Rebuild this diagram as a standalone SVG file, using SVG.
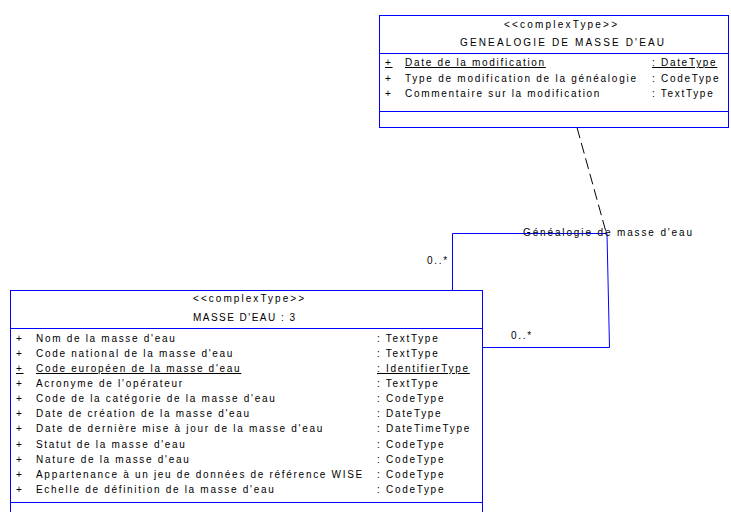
<svg xmlns="http://www.w3.org/2000/svg" width="731" height="512" viewBox="0 0 731 512">
<style>
  .box { fill: #ffffff; stroke: #0000ff; stroke-width: 1; }
  .sep { stroke: #0000ff; stroke-width: 1; fill: none; }
  text { font-family: "Liberation Sans", Arial, sans-serif; font-size: 10px; fill: #000000; letter-spacing: 1.7px; }
  .fit { letter-spacing: 0; }
  .u { text-decoration: underline; }
  .assoc { stroke: #0000ff; stroke-width: 1; fill: none; }
  .dash { stroke: #000000; stroke-width: 1; fill: none; stroke-dasharray: 11 5; }
</style>
<rect width="731" height="512" fill="#ffffff"/>
<g id="connectors">
  <polyline class="assoc" points="452.5,290 452.5,233.5 607,233.5 609.5,347.5 482,347.5"/>
  <line class="dash" x1="577" y1="127.5" x2="606" y2="232"/>
  <text class="fit" x="523" y="236" textLength="169" lengthAdjust="spacing">Généalogie de masse d'eau</text>
  <text x="427" y="264">0..*</text>
  <text x="511" y="339">0..*</text>
</g>
<g id="genealogie">
  <rect class="box" x="379.5" y="15.5" width="349" height="112"/>
  <line class="sep" x1="379.5" y1="53.5" x2="728.5" y2="53.5"/>
  <line class="sep" x1="379.5" y1="111.5" x2="728.5" y2="111.5"/>
  <text class="fit" x="504" y="28" textLength="113" lengthAdjust="spacing">&lt;&lt;complexType&gt;&gt;</text>
  <text class="fit" x="460" y="45.5" textLength="204" lengthAdjust="spacing">GENEALOGIE DE MASSE D'EAU</text>
  <text class="u" x="385" y="66">+</text>
  <text class="u" x="405" y="66">Date de la modification</text>
  <text class="u" x="652" y="66">: DateType</text>
  <text x="385" y="81.5">+</text>
  <text class="fit" x="405" y="81.5" textLength="231" lengthAdjust="spacing">Type de modification de la généalogie</text>
  <text x="652" y="81.5">: CodeType</text>
  <text x="385" y="97">+</text>
  <text x="405" y="97">Commentaire sur la modification</text>
  <text x="652" y="97">: TextType</text>
</g>
<g id="masse-deau">
  <rect class="box" x="10.5" y="290.5" width="472" height="230"/>
  <line class="sep" x1="10.5" y1="328.5" x2="482.5" y2="328.5"/>
  <line class="sep" x1="10.5" y1="502.5" x2="482.5" y2="502.5"/>
  <text class="fit" x="193" y="302" textLength="111" lengthAdjust="spacing">&lt;&lt;complexType&gt;&gt;</text>
  <text class="fit" x="193" y="321" textLength="102" lengthAdjust="spacing">MASSE D'EAU : 3</text>
  <text x="16" y="342">+</text><text x="36" y="342">Nom de la masse d'eau</text><text x="377" y="342">: TextType</text>
  <text x="16" y="357">+</text><text x="36" y="357">Code national de la masse d'eau</text><text x="377" y="357">: TextType</text>
  <text class="u" x="16" y="372">+</text><text class="u" x="36" y="372">Code européen de la masse d'eau</text><text class="u" x="377" y="372">: IdentifierType</text>
  <text x="16" y="387">+</text><text x="36" y="387">Acronyme de l'opérateur</text><text x="377" y="387">: TextType</text>
  <text x="16" y="402">+</text><text x="36" y="402">Code de la catégorie de la masse d'eau</text><text x="377" y="402">: CodeType</text>
  <text x="16" y="417">+</text><text x="36" y="417">Date de création de la masse d'eau</text><text x="377" y="417">: DateType</text>
  <text x="16" y="432">+</text><text x="36" y="432">Date de dernière mise à jour de la masse d'eau</text><text x="377" y="432">: DateTimeType</text>
  <text x="16" y="447.5">+</text><text x="36" y="447.5">Statut de la masse d'eau</text><text x="377" y="447.5">: CodeType</text>
  <text x="16" y="462.5">+</text><text x="36" y="462.5">Nature de la masse d'eau</text><text x="377" y="462.5">: CodeType</text>
  <text x="16" y="477.5">+</text><text x="36" y="477.5">Appartenance à un jeu de données de référence WISE</text><text x="377" y="477.5">: CodeType</text>
  <text x="16" y="493">+</text><text x="36" y="493">Echelle de définition de la masse d'eau</text><text x="377" y="493">: CodeType</text>
</g>
</svg>
